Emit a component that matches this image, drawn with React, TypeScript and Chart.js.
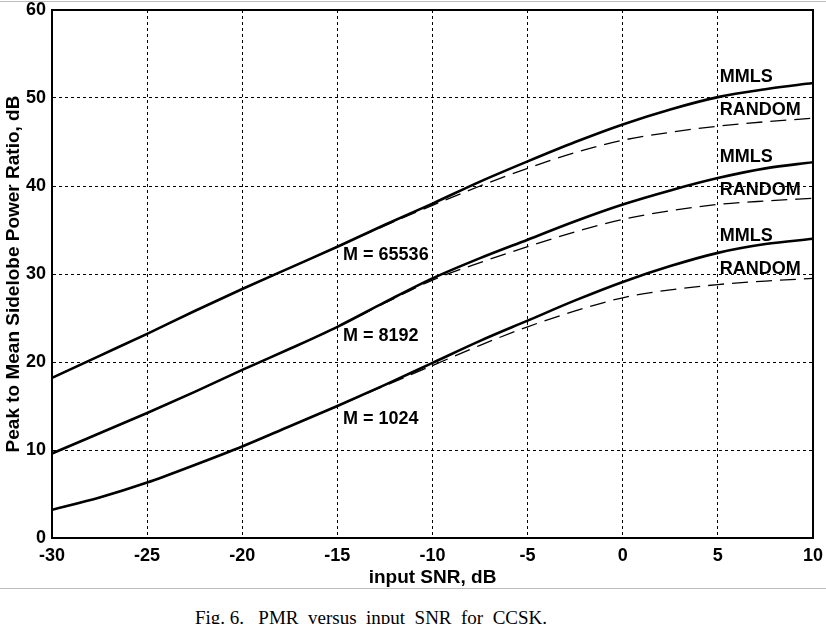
import React, { useEffect, useRef } from "react";
import { Chart, registerables } from "chart.js";

Chart.register(...registerables);

const snr = [-30, -27.5, -25, -22.5, -20, -17.5, -15, -12.5, -10, -7.5, -5, -2.5, 0, 2.5, 5, 7.5, 10];

const mmls65536 = [18.2, 20.7, 23.2, 25.8, 28.3, 30.7, 33.1, 35.6, 38.0, 40.5, 42.8, 45.0, 47.0, 48.7, 50.1, 51.0, 51.7];
const random65536 = [18.2, 20.7, 23.2, 25.8, 28.3, 30.7, 33.1, 35.5, 37.8, 40.0, 42.0, 43.8, 45.2, 46.1, 46.8, 47.3, 47.7];
const mmls8192 = [9.6, 11.9, 14.2, 16.6, 19.1, 21.5, 24.0, 26.8, 29.5, 31.8, 33.9, 36.0, 37.9, 39.5, 40.9, 42.0, 42.7];
const random8192 = [9.6, 11.9, 14.2, 16.6, 19.1, 21.5, 24.0, 26.7, 29.3, 31.3, 33.1, 34.8, 36.2, 37.2, 37.9, 38.3, 38.6];
const mmls1024 = [3.2, 4.6, 6.3, 8.3, 10.4, 12.7, 15.0, 17.4, 19.9, 22.4, 24.7, 27.0, 29.1, 30.9, 32.4, 33.4, 34.0];
const random1024 = [3.2, 4.6, 6.3, 8.3, 10.4, 12.7, 15.0, 17.3, 19.6, 21.9, 24.0, 25.8, 27.3, 28.2, 28.8, 29.2, 29.5];

const xTicks = [-30, -25, -20, -15, -10, -5, 0, 5, 10];
const yTicks = [0, 10, 20, 30, 40, 50, 60];

const annoText = ["MMLS", "RANDOM", "MMLS", "RANDOM", "MMLS", "RANDOM", "M = 65536", "M = 8192", "M = 1024"];
const annoX = [5.1, 5.1, 5.1, 5.1, 5.1, 5.1, -14.7, -14.7, -14.7];
const annoY = [52.4, 48.6, 43.3, 39.5, 34.3, 30.6, 32.2, 22.9, 13.5];

const FAMILY = "'Liberation Sans', Arial, sans-serif";
const BOLD = `bold 18px ${FAMILY}`;

const pts = (ys: number[]) => snr.map((x, i) => ({ x, y: ys[i] }));

export default function App() {
  const ref = useRef<HTMLCanvasElement | null>(null);

  useEffect(() => {
    if (!ref.current) return;
    const solid = (label: string, d: number[]) => ({
      label,
      data: pts(d),
      borderColor: "#000",
      borderWidth: 2.6,
      pointRadius: 0,
      cubicInterpolationMode: "monotone" as const,
      fill: false,
    });
    const dashed = (label: string, d: number[]) => ({
      label,
      data: pts(d),
      borderColor: "#000",
      borderWidth: 1.3,
      borderDash: [16, 8],
      pointRadius: 0,
      cubicInterpolationMode: "monotone" as const,
      fill: false,
    });

    const framePlugin = {
      id: "frame",
      afterDraw(chart: any) {
        const { ctx, chartArea: a, scales } = chart;
        ctx.save();
        ctx.strokeStyle = "#000";
        ctx.lineWidth = 2;
        ctx.setLineDash([]);
        ctx.strokeRect(a.left, a.top, a.right - a.left, a.bottom - a.top);
        ctx.fillStyle = "#000";
        ctx.font = BOLD;
        ctx.textAlign = "left";
        ctx.textBaseline = "middle";
        annoText.forEach((t, i) => {
          const px = scales.x.getPixelForValue(annoX[i]);
          const py = scales.y.getPixelForValue(annoY[i]);
          ctx.fillText(t, px, py);
        });
        ctx.restore();
      },
    };

    const chart = new Chart(ref.current, {
      type: "line",
      data: {
        datasets: [
          dashed("RANDOM M=65536", random65536),
          dashed("RANDOM M=8192", random8192),
          dashed("RANDOM M=1024", random1024),
          solid("MMLS M=65536", mmls65536),
          solid("MMLS M=8192", mmls8192),
          solid("MMLS M=1024", mmls1024),
        ],
      },
      options: {
        animation: false,
        responsive: false,
        layout: { padding: { top: 10, right: 13, left: 0, bottom: 0 } },
        plugins: { legend: { display: false }, tooltip: { enabled: false } },
        scales: {
          x: {
            type: "linear",
            min: -30,
            max: 10,
            afterBuildTicks: (s: any) => {
              s.ticks = xTicks.map((v) => ({ value: v }));
            },
            afterFit: (s: any) => {
              s.height = 52;
              s.paddingLeft = 0;
              s.paddingRight = 0;
            },
            ticks: {
              color: "#000",
              font: { family: FAMILY, size: 18, weight: "bold" },
              padding: 7,
              maxRotation: 0,
            },
            grid: { color: "#000", lineWidth: 1, drawTicks: false },
            border: { display: true, color: "#000", width: 2, dash: [3, 3] },
            title: {
              display: true,
              text: "input SNR, dB",
              color: "#000",
              font: { family: FAMILY, size: 19, weight: "bold" },
              padding: { top: 0, bottom: 1 },
            },
          },
          y: {
            type: "linear",
            min: 0,
            max: 60,
            afterBuildTicks: (s: any) => {
              s.ticks = yTicks.map((v) => ({ value: v }));
            },
            afterFit: (s: any) => {
              s.width = 52;
              s.paddingTop = 0;
              s.paddingBottom = 0;
            },
            ticks: {
              color: "#000",
              font: { family: FAMILY, size: 18, weight: "bold" },
              padding: 6,
            },
            grid: { color: "#000", lineWidth: 1, drawTicks: false },
            border: { display: true, color: "#000", width: 2, dash: [3, 3] },
            title: {
              display: true,
              text: "Peak to Mean Sidelobe Power Ratio, dB",
              color: "#000",
              font: { family: FAMILY, size: 19, weight: "bold" },
              padding: { top: 2, bottom: 0 },
            },
          },
        },
      },
      plugins: [framePlugin],
    } as any);
    return () => chart.destroy();
  }, []);

  return (
    <div
      style={{
        position: "absolute",
        left: 0,
        top: 0,
        width: 826,
        height: 624,
        background: "#fff",
        overflow: "hidden",
      }}
    >
      <div style={{ position: "absolute", left: 0, top: 1, width: 826, height: 1, background: "#bdbdbd" }} />
      <canvas ref={ref} width={826} height={590} style={{ position: "absolute", left: 0, top: 0 }} />
      <div style={{ position: "absolute", left: 0, top: 588, width: 826, height: 1, background: "#bdbdbd" }} />
      <div
        style={{
          position: "absolute",
          left: 195,
          top: 605,
          fontFamily: "'Liberation Serif', 'Times New Roman', serif",
          fontSize: 19,
          lineHeight: "26px",
          whiteSpace: "pre",
          color: "#000",
        }}
      >
        {"Fig. 6.   PMR  versus  input  SNR  for  CCSK."}
      </div>
    </div>
  );
}
